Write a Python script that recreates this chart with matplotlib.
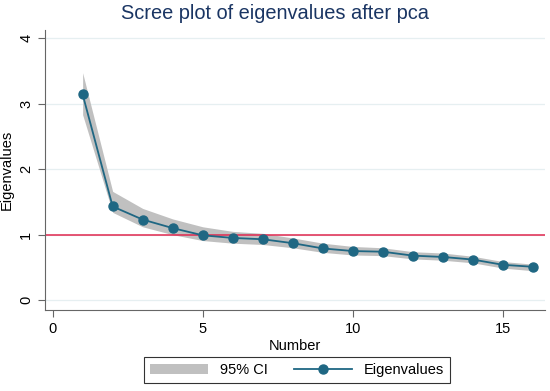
import matplotlib
matplotlib.use("Agg")
import matplotlib.pyplot as plt

plt.rcParams['font.family'] = ['Liberation Sans', 'DejaVu Sans']

number = [1, 2, 3, 4, 5, 6, 7, 8, 9, 10, 11, 12, 13, 14, 15, 16]
eigenvalues = [3.14, 1.43, 1.23, 1.10, 0.99, 0.95, 0.93, 0.87, 0.79, 0.75, 0.74, 0.68, 0.66, 0.62, 0.54, 0.51]
ci_upper = [3.47, 1.66, 1.40, 1.24, 1.12, 1.05, 1.02, 0.95, 0.87, 0.82, 0.80, 0.74, 0.72, 0.67, 0.59, 0.55]
ci_lower = [2.83, 1.34, 1.12, 1.00, 0.91, 0.87, 0.85, 0.80, 0.73, 0.69, 0.68, 0.63, 0.61, 0.57, 0.49, 0.45]

navy = "#1a3563"
teal = "#1f6783"

fig = plt.figure(figsize=(5.5, 3.91), dpi=100)
ax = fig.add_axes([0.082, 0.207, 0.909, 0.716])

for g in range(5):
    ax.axhline(g, color="#e6eff1", lw=0.9, zorder=0)

ci = ax.fill_between(number, ci_lower, ci_upper, color="#c0c0c0", lw=0, zorder=1, label="95% CI")
ax.axhline(1, color="#e0284f", lw=1.1, zorder=2)
line, = ax.plot(number, eigenvalues, color=teal, lw=1.3, marker="o", ms=6.5, zorder=3, label="Eigenvalues")

ax.set_xlim(-0.25, 16.4)
ax.set_ylim(-0.15, 4.12)
ax.set_xticks([0, 5, 10, 15])
ax.set_yticks([0, 1, 2, 3, 4])
for s in ["top", "right"]:
    ax.spines[s].set_visible(False)
for s in ["left", "bottom"]:
    ax.spines[s].set_color("#666666")
ax.tick_params(colors="#666666", labelcolor="black", labelsize=10.5, length=5)
for t in ax.get_yticklabels():
    t.set_rotation(90)
    t.set_va("center")

ax.set_xlabel("Number", fontsize=10.5, labelpad=2)
ax.set_ylabel("Eigenvalues", fontsize=10.5, labelpad=4)
fig.suptitle("Scree plot of eigenvalues after pca", color=navy, fontsize=14.4, y=0.99)

leg = fig.legend(handles=[ci, line], loc="center", bbox_to_anchor=(0.54, 0.054), ncol=2,
                 frameon=True, fancybox=False, edgecolor="black", fontsize=10.5,
                 handlelength=4.0, columnspacing=1.8, borderpad=0.4)
leg.get_frame().set_linewidth(0.8)

fig.savefig("out.png", dpi=100, facecolor="white")
